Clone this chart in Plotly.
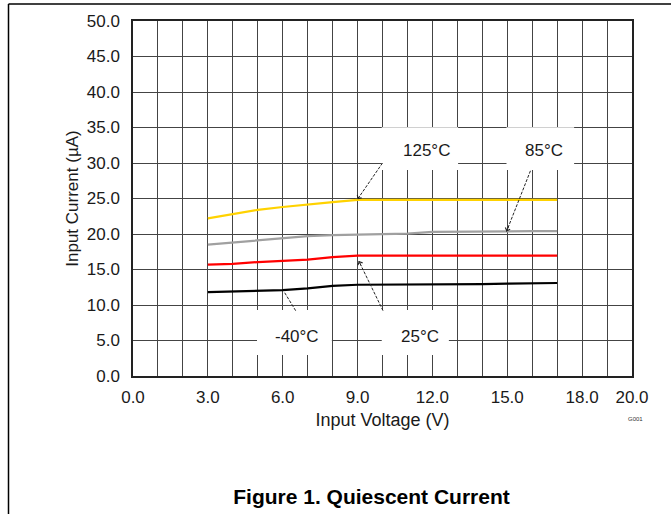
import plotly.graph_objects as go

# ---------------- data ----------------
voltage = [3, 4, 5, 6, 7, 8, 9, 10, 11, 12, 13, 14, 15, 16, 17]
i_125c = [22.2, 22.8, 23.4, 23.8, 24.2, 24.5, 24.8, 24.8, 24.8, 24.8, 24.8, 24.8, 24.8, 24.8, 24.8]
i_85c = [18.5, 18.8, 19.15, 19.5, 19.7, 19.85, 19.95, 20.0, 20.05, 20.3, 20.35, 20.4, 20.4, 20.4, 20.4]
i_25c = [15.7, 15.8, 16.05, 16.2, 16.4, 16.75, 16.95, 16.95, 16.95, 16.95, 16.95, 16.95, 16.95, 16.95, 16.95]
i_m40c = [11.8, 11.9, 12.0, 12.1, 12.35, 12.7, 12.85, 12.85, 12.9, 12.9, 12.95, 12.95, 13.0, 13.1, 13.1]

series_names = ["125°C", "85°C", "25°C", "-40°C"]
series_values = [i_125c, i_85c, i_25c, i_m40c]
series_colors = ["#FFD200", "#A0A0A0", "#FF0000", "#000000"]

x_tick_vals = [0, 3, 6, 9, 12, 15, 18, 20]
x_tick_text = ["0.0", "3.0", "6.0", "9.0", "12.0", "15.0", "18.0", "20.0"]

# label annotations: text position, arrow head (on curve), arrow tail
label_x = [11.76, 16.49, 11.51, 6.58]
label_y = [31.7, 31.7, 5.6, 5.6]
head_x = [9.0, 14.97, 9.05, 6.05]
head_y = [24.9, 20.35, 16.2, 11.9]
tail_x = [10.0, 15.93, 10.02, 6.52]
tail_y = [30.0, 28.9, 9.2, 9.2]
# white label boxes (x0, x1, y0, y1)
box_x0 = [9.97, 14.97, 9.97, 4.97]
box_x1 = [13.03, 17.68, 12.66, 7.97]
box_y0 = [29.0, 29.0, 2.96, 2.96]
box_y1 = [35.03, 35.03, 9.3, 9.3]

FONT = "Liberation Sans, Arial, sans-serif"
W, H = 671, 514
ML, MR, MT, MB = 133, 39, 21, 138
PW, PH = W - ML - MR, H - MT - MB


def px_to_paper(px, py):
    return (px - ML) / PW, (H - MB - py) / PH


fig = go.Figure()
for name, vals, col in zip(series_names, series_values, series_colors):
    fig.add_trace(go.Scatter(x=voltage, y=vals, mode="lines", name=name,
                             line=dict(color=col, width=2.2), showlegend=False))

shapes = []
for x0, x1, y0, y1 in zip(box_x0, box_x1, box_y0, box_y1):
    shapes.append(dict(type="rect", xref="x", yref="y", x0=x0, x1=x1, y0=y0, y1=y1,
                       fillcolor="white", line=dict(width=0), layer="above"))

# dashed leader lines
for hx, hy, tx, ty in zip(head_x, head_y, tail_x, tail_y):
    shapes.append(dict(type="line", xref="x", yref="y", x0=tx, y0=ty, x1=hx, y1=hy,
                       line=dict(color="#222", width=1, dash="3px,1.5px"), layer="above"))

# page border (left and top)
bl, bt = px_to_paper(8.5, 4)
br, bb = px_to_paper(W + 2, H + 2)
shapes.append(dict(type="line", xref="paper", yref="paper", x0=bl, x1=bl, y0=bt, y1=bb,
                   line=dict(color="black", width=1.5)))
shapes.append(dict(type="line", xref="paper", yref="paper", x0=bl, x1=br, y0=bt, y1=bt,
                   line=dict(color="black", width=1.5)))

annotations = []
for t, lx, ly in zip(series_names, label_x, label_y):
    annotations.append(dict(x=lx, y=ly, xref="x", yref="y", text=t, showarrow=False,
                            font=dict(family=FONT, size=17, color="#1a1a1a")))
# arrow heads (short solid segment at the head end of each leader)
for hx, hy, tx, ty in zip(head_x, head_y, tail_x, tail_y):
    sx = hx + 0.12 * (tx - hx)
    sy = hy + 0.12 * (ty - hy)
    annotations.append(dict(x=hx, y=hy, xref="x", yref="y", ax=sx, ay=sy,
                            axref="x", ayref="y", text="", showarrow=True,
                            arrowhead=4, arrowsize=1, arrowwidth=1, arrowcolor="#222",
                            standoff=0, startstandoff=0))
gx, gy = px_to_paper(645, 423.5)
annotations.append(dict(x=gx, y=gy, xref="paper", yref="paper", text="G001", showarrow=False,
                        font=dict(family=FONT, size=6, color="#333")))

fig.update_layout(
    width=W, height=H,
    margin=dict(l=ML, r=MR, t=MT, b=MB),
    paper_bgcolor="white", plot_bgcolor="white",
    font=dict(family=FONT, color="#1a1a1a"),
    shapes=shapes, annotations=annotations,
    title=dict(text="<b>Figure 1. Quiescent Current</b>", xref="container", yref="container",
               x=371.5 / W, y=1 - 497 / H, xanchor="center", yanchor="middle",
               font=dict(family=FONT, size=21, color="black")),
)

fig.update_xaxes(range=[0, 20], tickvals=x_tick_vals, ticktext=x_tick_text,
                 showgrid=True, gridcolor="#444", gridwidth=1,
                 minor=dict(dtick=1, showgrid=True, gridcolor="#444", gridwidth=1),
                 showline=True, mirror=True, linecolor="#222", linewidth=1.5,
                 ticks="", ticklabelstandoff=5, zeroline=False,
                 tickfont=dict(family=FONT, size=17, color="#1a1a1a"),
                 title=dict(text="Input Voltage (V)", standoff=7,
                            font=dict(family=FONT, size=18, color="#1a1a1a")))
fig.update_yaxes(range=[0, 50], dtick=5, tickformat=".1f",
                 showgrid=True, gridcolor="#444", gridwidth=1,
                 showline=True, mirror=True, linecolor="#222", linewidth=1.5,
                 ticks="", ticklabelstandoff=8, zeroline=False,
                 tickfont=dict(family=FONT, size=17, color="#1a1a1a"),
                 title=dict(text="Input Current (µA)", standoff=4,
                            font=dict(family=FONT, size=17, color="#1a1a1a")))

fig.write_html("out.html", config={"displayModeBar": False},
               post_script="document.body.style.margin='0';document.body.style.overflow='hidden';")
